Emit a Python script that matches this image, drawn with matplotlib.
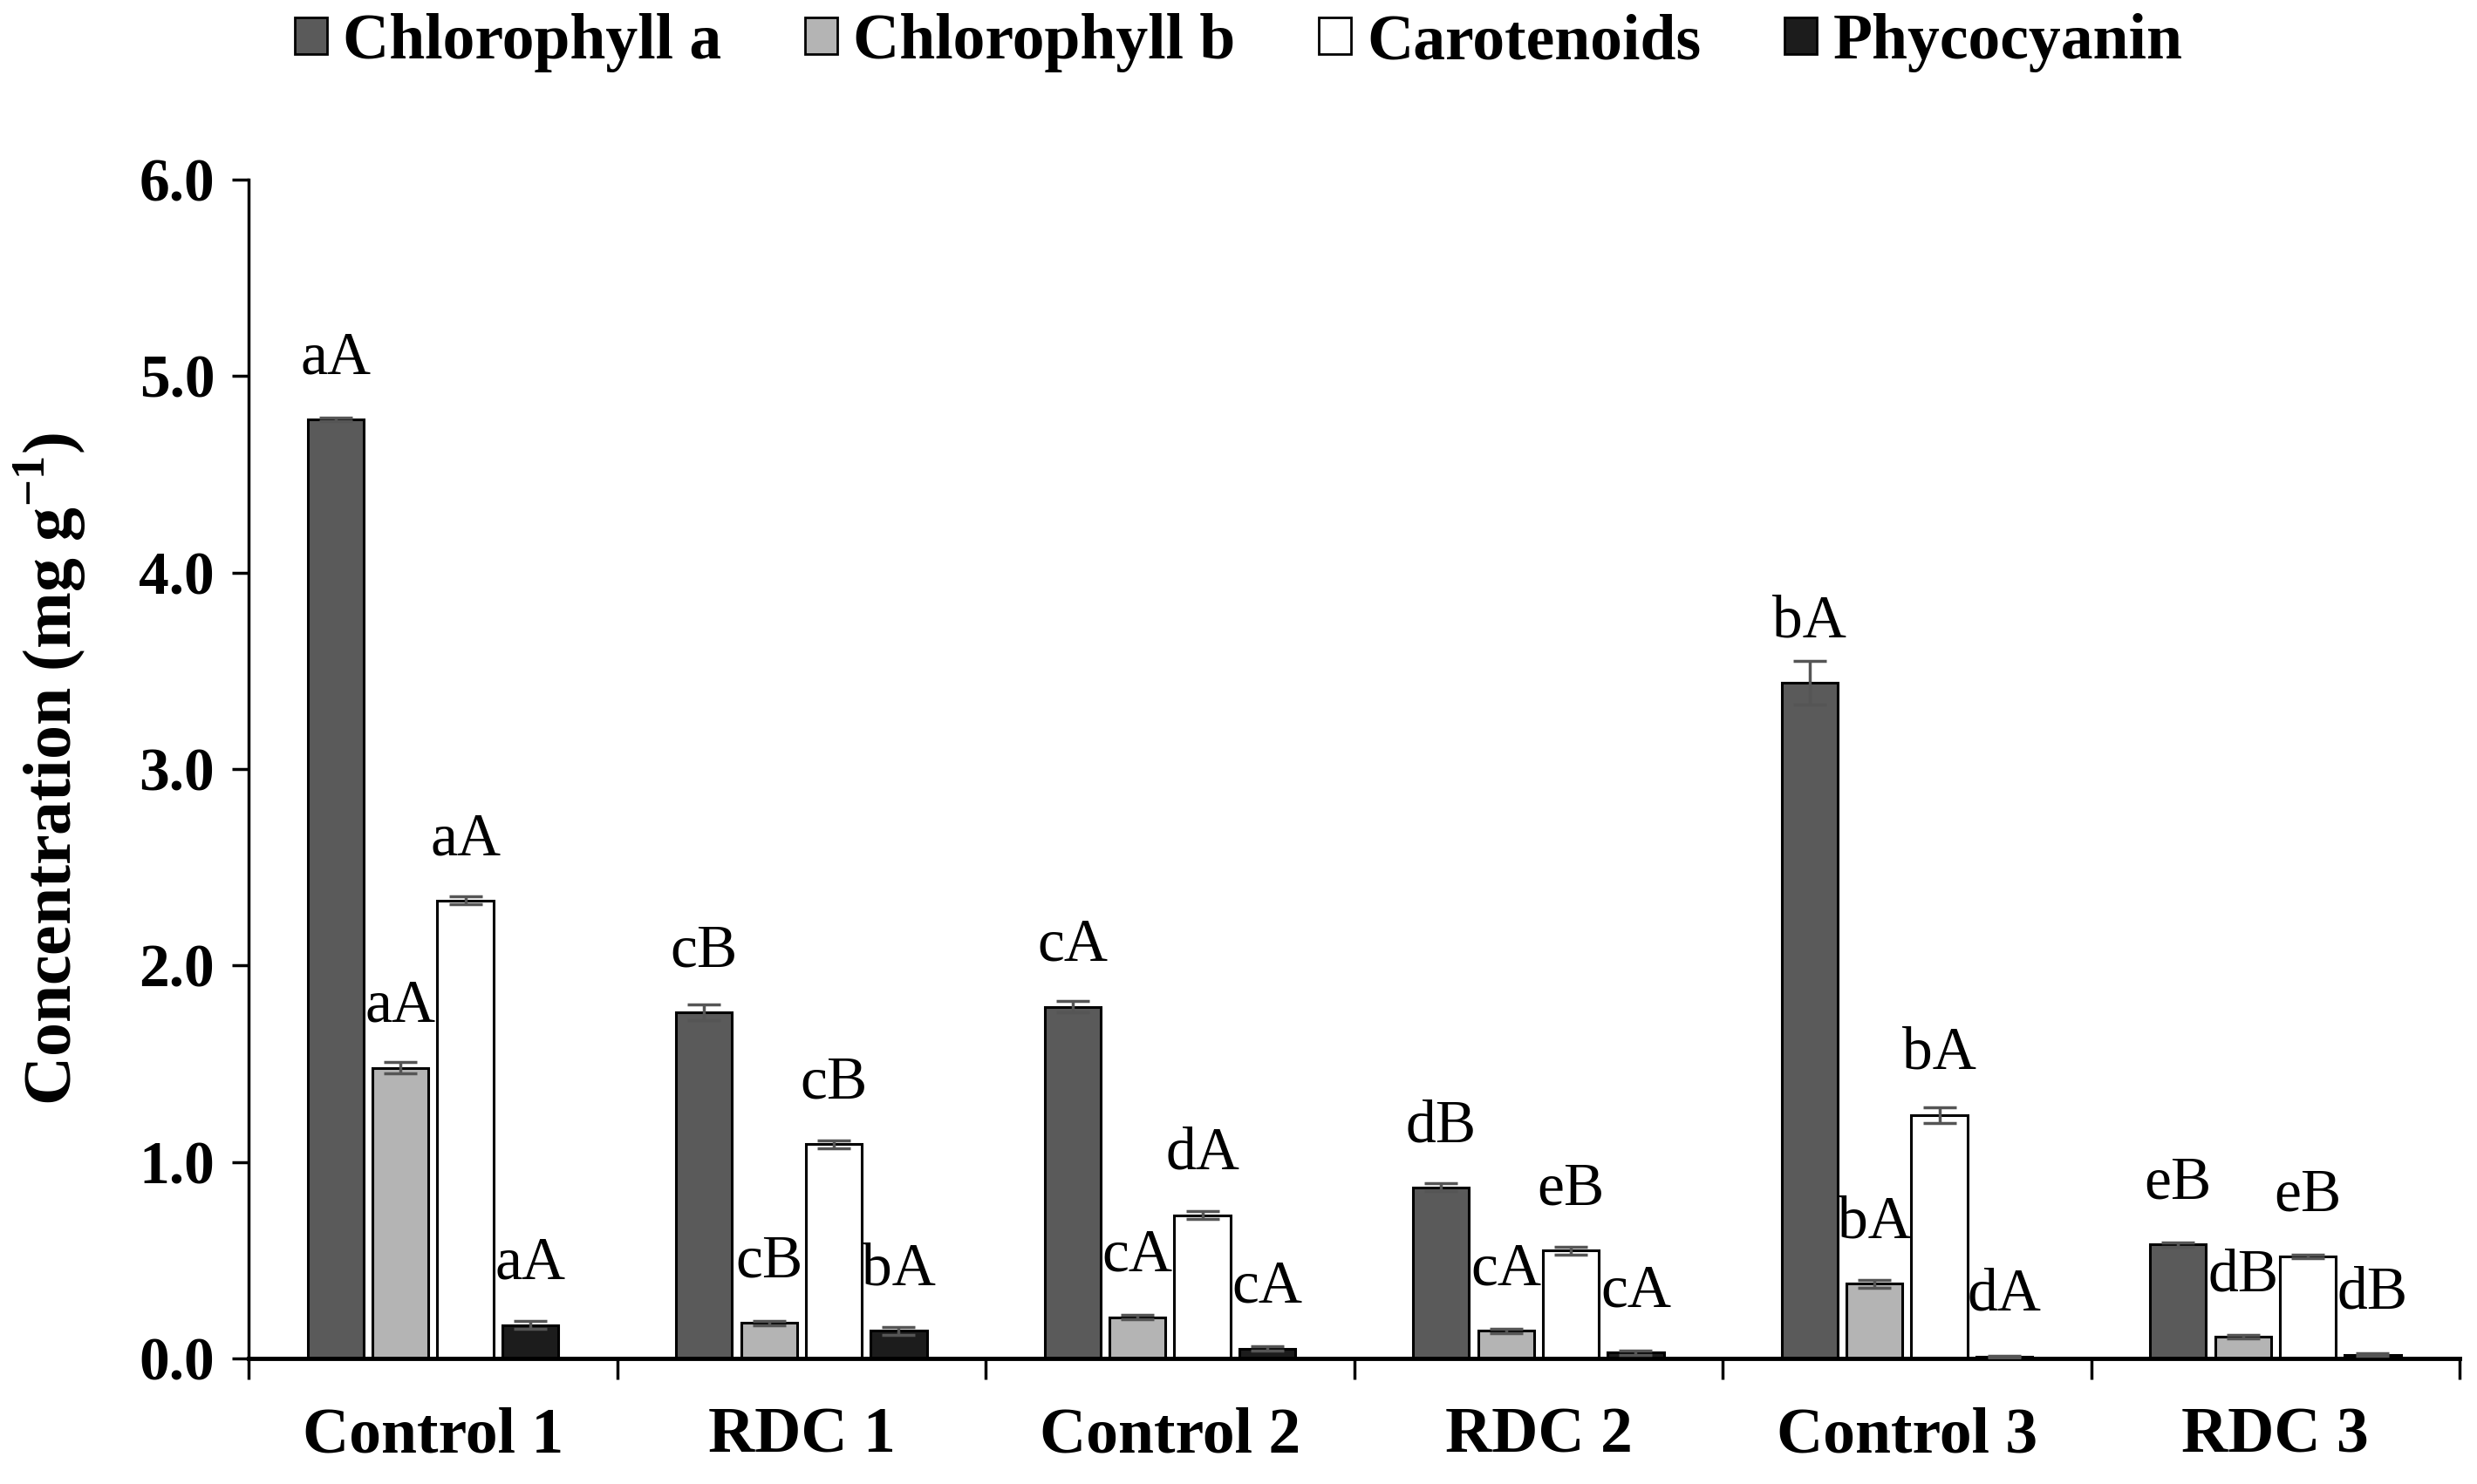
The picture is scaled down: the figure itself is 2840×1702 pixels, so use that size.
import matplotlib.pyplot as plt
import numpy as np
from matplotlib.patches import Patch
from matplotlib.ticker import FixedLocator

plt.rcParams['font.family'] = ['Liberation Serif', 'DejaVu Serif']
plt.rcParams['mathtext.fontset'] = 'custom'
plt.rcParams['mathtext.rm'] = 'Liberation Serif:bold'
plt.rcParams['mathtext.bf'] = 'Liberation Serif:bold'

# data
groups = ['Control 1', 'RDC 1', 'Control 2', 'RDC 2', 'Control 3', 'RDC 3']
pigments = ['Chlorophyll a', 'Chlorophyll b', 'Carotenoids', 'Phycocyanin']
yticks = [0.0, 1.0, 2.0, 3.0, 4.0, 5.0, 6.0]

chl_a = [4.78, 1.76, 1.79, 0.87, 3.44, 0.58]
chl_a_err = [0.01, 0.04, 0.03, 0.02, 0.11, 0.01]
chl_b = [1.48, 0.18, 0.21, 0.14, 0.38, 0.11]
chl_b_err = [0.03, 0.01, 0.01, 0.01, 0.02, 0.01]
carot = [2.33, 1.09, 0.73, 0.55, 1.24, 0.52]
carot_err = [0.02, 0.02, 0.02, 0.02, 0.04, 0.01]
phyco = [0.17, 0.14, 0.05, 0.03, 0.01, 0.02]
phyco_err = [0.02, 0.02, 0.01, 0.01, 0.005, 0.005]

chl_a_lbl = ['aA', 'cB', 'cA', 'dB', 'bA', 'eB']
chl_b_lbl = ['aA', 'cB', 'cA', 'cA', 'bA', 'dB']
carot_lbl = ['aA', 'cB', 'dA', 'eB', 'bA', 'eB']
phyco_lbl = ['aA', 'bA', 'cA', 'cA', 'dA', 'dB']

series = [(chl_a, chl_a_err, chl_a_lbl), (chl_b, chl_b_err, chl_b_lbl),
          (carot, carot_err, carot_lbl), (phyco, phyco_err, phyco_lbl)]
colors = ['#5a5a5a', '#b4b4b4', '#ffffff', '#1c1c1c']

fig = plt.figure(figsize=(28.4, 17.02), dpi=100)
ax = fig.add_axes([0.1004, 0.0846, 0.8926, 0.7944])

x = np.arange(len(groups))
width = 0.152
step = 0.176
offsets = [-1.5 * step, -0.5 * step, 0.5 * step, 1.5 * step]

for (vals, errs, lbls), col, off in zip(series, colors, offsets):
    ax.bar(x + off, vals, width, color=col, edgecolor='black', linewidth=2.2, zorder=2)
    ax.errorbar(x + off, vals, yerr=errs, fmt='none', ecolor='#555555',
                elinewidth=2.5, capsize=14, capthick=2.5, zorder=3)
    for xi, v, t in zip(x + off, vals, lbls):
        ax.annotate(t, (xi, v), xytext=(0, 38), textcoords='offset points',
                    ha='center', va='baseline', fontsize=50)

ax.set_xlim(-0.5, 5.5)
ax.set_ylim(0, 6)
ax.spines['top'].set_visible(False)
ax.spines['right'].set_visible(False)
ax.spines['left'].set_linewidth(2.5)
ax.spines['bottom'].set_linewidth(3.5)

ax.set_yticks(yticks)
ax.set_yticklabels([f'{v:.1f}' for v in yticks], fontsize=50, fontweight='bold')
ax.tick_params(axis='y', direction='out', length=14, width=2.5, pad=14)

ax.set_xticks(x)
ax.set_xticklabels(groups, fontsize=53, fontweight='bold')
ax.tick_params(axis='x', which='major', length=0, pad=40)
ax.xaxis.set_minor_locator(FixedLocator(np.arange(-0.5, 6, 1.0)))
ax.tick_params(axis='x', which='minor', direction='out', length=17, width=2.5)

ax.set_ylabel(r'Concentration (mg g$^{-1}$)', fontsize=56, fontweight='bold', labelpad=42)

handles = [Patch(facecolor=c, edgecolor='black', linewidth=2) for c in colors]
fig.legend(handles, pigments, loc='center', bbox_to_anchor=(0.5, 0.971), ncol=4,
           frameon=False, prop={'size': 53, 'weight': 'bold'},
           handlelength=0.5, handleheight=0.5, handletextpad=0.25,
           columnspacing=1.3)

fig.savefig('out.png', dpi=100)
